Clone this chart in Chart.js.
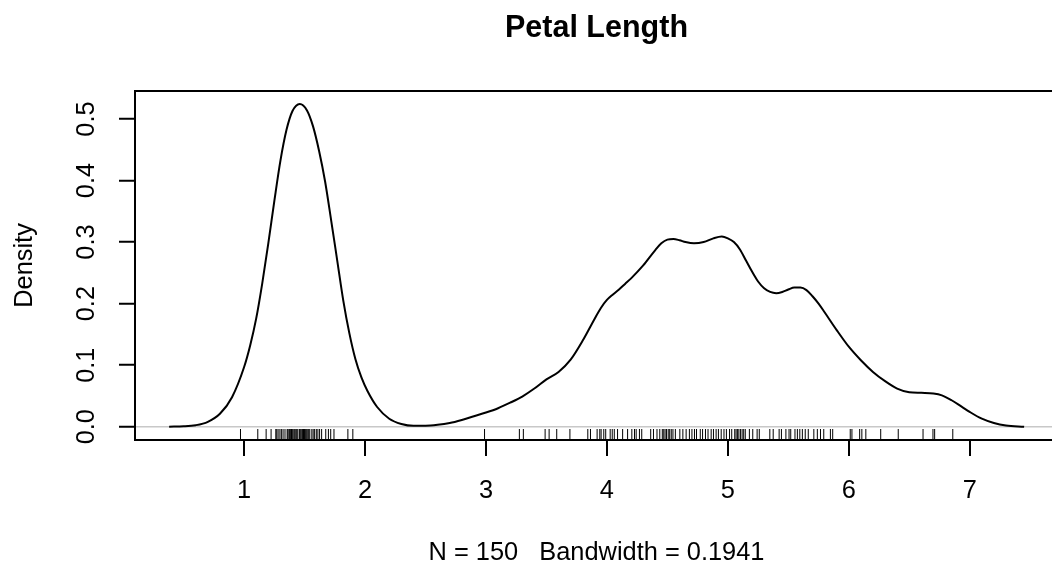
<!DOCTYPE html>
<html>
<head>
<meta charset="utf-8">
<script src="https://cdn.jsdelivr.net/npm/chart.js@4"></script>
<style>
  html, body { margin: 0; padding: 0; background: #fff; overflow: hidden; }
  canvas { display: block; }
</style>
</head>
<body>
<canvas id="myChart" width="1070" height="565"></canvas>
<script>
// density curve (x = petal length, y = density)
const densityX = [
  0.38, 0.5, 0.6, 0.7, 0.8, 0.9, 1.0, 1.05, 1.1, 1.15, 1.2, 1.25, 1.3, 1.35, 1.4, 1.46,
  1.52, 1.57, 1.62, 1.67, 1.72, 1.77, 1.82, 1.87, 1.92, 1.97, 2.02, 2.1, 2.2, 2.3, 2.4, 2.5,
  2.6, 2.7, 2.8, 2.9, 3.0, 3.1, 3.2, 3.3, 3.4, 3.5, 3.6, 3.7, 3.8, 3.9, 3.95, 4.0, 4.05,
  4.1, 4.15, 4.2, 4.3, 4.4, 4.45, 4.5, 4.55, 4.6, 4.65, 4.72, 4.8, 4.88, 4.95, 5.0, 5.05,
  5.1, 5.15, 5.2, 5.25, 5.3, 5.35, 5.4, 5.45, 5.5, 5.55, 5.6, 5.65, 5.7, 5.75, 5.8, 5.9,
  6.0, 6.1, 6.2, 6.3, 6.4, 6.5, 6.6, 6.7, 6.77, 6.85, 6.93, 7.0, 7.1, 7.2, 7.3, 7.45
];
const densityY = [
  0.0, 0.0006, 0.0025, 0.008, 0.021, 0.048, 0.097, 0.132, 0.176, 0.233, 0.298, 0.367, 0.432, 0.482, 0.513, 0.5245,
  0.514, 0.488, 0.448, 0.398, 0.335, 0.270, 0.205, 0.152, 0.110, 0.080, 0.058, 0.032, 0.013, 0.0045, 0.0015, 0.0015,
  0.003, 0.006, 0.011, 0.017, 0.023, 0.030, 0.039, 0.049, 0.062, 0.077, 0.089, 0.109, 0.140, 0.176, 0.193, 0.206, 0.215,
  0.223, 0.232, 0.241, 0.262, 0.287, 0.298, 0.304, 0.305, 0.303, 0.300, 0.298, 0.300, 0.306, 0.309, 0.306, 0.300,
  0.288, 0.270, 0.252, 0.236, 0.225, 0.219, 0.217, 0.219, 0.223, 0.226, 0.226, 0.222, 0.212, 0.200, 0.186, 0.157,
  0.130, 0.108, 0.089, 0.074, 0.062, 0.056, 0.055, 0.054, 0.051, 0.043, 0.033, 0.024, 0.013, 0.006, 0.002, 0.0
];

const rugValues = [
  0.970, 1.113, 1.182, 1.223,
  1.262, 1.270, 1.281, 1.296, 1.308, 1.322, 1.338,
  1.356, 1.362, 1.371, 1.377, 1.385, 1.392, 1.398, 1.405, 1.414, 1.421, 1.429, 1.436, 1.444,
  1.457, 1.463, 1.470, 1.478, 1.484, 1.491, 1.499, 1.506, 1.513, 1.520, 1.528, 1.535, 1.543,
  1.560, 1.571, 1.583, 1.597, 1.610, 1.624, 1.641,
  1.675, 1.697, 1.716, 1.743, 1.858, 1.899,
  2.988, 3.276, 3.309, 3.489, 3.522, 3.585, 3.694, 3.842,
  3.864, 3.919, 3.941, 3.952, 3.974, 3.990, 4.027, 4.044,
  4.061, 4.088, 4.130, 4.171, 4.206, 4.228, 4.242, 4.269, 4.288,
  4.362, 4.385, 4.414, 4.437,
  4.458, 4.470, 4.481, 4.493, 4.507, 4.519, 4.532, 4.546,
  4.566, 4.603, 4.628, 4.655, 4.682, 4.703, 4.724, 4.741,
  4.772, 4.791, 4.815, 4.836, 4.862, 4.881, 4.903, 4.922, 4.945,
  4.968, 4.988, 5.014, 5.032,
  5.057, 5.068, 5.079, 5.091, 5.104, 5.118, 5.131, 5.144,
  5.178, 5.206, 5.242, 5.260, 5.347, 5.375, 5.424, 5.443, 5.480,
  5.506, 5.520, 5.555, 5.575, 5.595, 5.616, 5.640, 5.665, 5.711,
  5.740, 5.766, 5.793, 5.848, 5.867, 6.012, 6.026, 6.090, 6.108, 6.141,
  6.264, 6.409, 6.614, 6.696, 6.710, 6.860
];

const xTicks = [1, 2, 3, 4, 5, 6, 7];
const yTicks = [0, 0.1, 0.2, 0.3, 0.4, 0.5];

const xMin = 0.0977, xMax = 7.73;
const yMin = -0.0216, yMax = 0.5455;

const titleText = "Petal Length";
const subText = "N = 150   Bandwidth = 0.1941";
const yLabel = "Density";

Chart.defaults.font.family = "'Liberation Sans', Arial, sans-serif";
Chart.defaults.color = "#000";

// frame round the plot region, like R's box()
const boxPlugin = {
  id: "box",
  afterDraw(chart) {
    const { ctx, chartArea: a } = chart;
    ctx.save();
    ctx.strokeStyle = "#000";
    ctx.lineWidth = 2;
    ctx.strokeRect(a.left, a.top, a.right - a.left, a.bottom - a.top);
    ctx.restore();
  },
};

const cfg = {
  type: "line",
  data: {
    datasets: [
      {
        label: "density",
        xAxisID: "x",
        yAxisID: "y",
        data: densityX.map((x, i) => ({ x: x, y: densityY[i] })),
        borderColor: "#000",
        borderWidth: 2,
        pointRadius: 0,
        cubicInterpolationMode: "monotone",
        fill: false,
      },
      {
        type: "scatter",
        label: "rug",
        xAxisID: "x",
        yAxisID: "y",
        data: rugValues.map((x) => ({ x: x, y: yMin })),
        pointStyle: "line",
        rotation: 90,
        radius: 11,
        borderWidth: 1,
        borderColor: "#000",
        clip: 0,
      },
    ],
  },
  plugins: [boxPlugin],
  options: {
    responsive: false,
    animation: false,
    events: [],
    layout: { padding: { top: 0, right: 6, left: 0, bottom: 0 } },
    plugins: {
      legend: { display: false },
      tooltip: { enabled: false },
      title: { display: false },
    },
    scales: {
      x: {
        type: "linear",
        position: "bottom",
        min: xMin,
        max: xMax,
        afterFit: (s) => { s.height = 125; },
        afterBuildTicks: (s) => { s.ticks = xTicks.map((v) => ({ value: v })); },
        ticks: {
          autoSkip: false,
          maxRotation: 0,
          padding: 20,
          font: { size: 25.4 },
          callback: (v) => String(v),
        },
        grid: { drawOnChartArea: false, color: "#000", lineWidth: 2, tickLength: 16 },
        border: { display: true, color: "#000", width: 2 },
        title: {
          display: true,
          text: subText,
          font: { size: 25.4, lineHeight: 1.2 },
          padding: { top: 0, bottom: -3 },
        },
      },
      y: {
        type: "linear",
        min: yMin,
        max: yMax,
        afterFit: (s) => { s.width = 135; },
        afterBuildTicks: (s) => { s.ticks = yTicks.map((v) => ({ value: v })); },
        ticks: {
          autoSkip: false,
          minRotation: 90,
          maxRotation: 90,
          crossAlign: "center",
          padding: 14.4,
          font: { size: 25.4 },
          callback: (v) => v.toFixed(1),
        },
        grid: {
          drawOnChartArea: true,
          color: (c) => (c.tick && c.tick.value === 0 ? "#c8c8c8" : "rgba(0,0,0,0)"),
          lineWidth: 1.5,
          tickColor: "#000",
          tickWidth: 2,
          tickLength: 16,
        },
        border: { display: true, color: "#000", width: 2 },
        title: {
          display: true,
          text: yLabel,
          font: { size: 25.4, lineHeight: 1.2 },
          padding: { top: 10, bottom: 0 },
        },
      },
      // empty top axis, only used to hold the main title centred over the plot
      top: {
        type: "linear",
        axis: "x",
        position: "top",
        afterFit: (s) => { s.height = 91; },
        ticks: { display: false },
        grid: { display: false },
        border: { display: false },
        title: {
          display: true,
          text: titleText,
          font: { size: 30.5, weight: "bold", lineHeight: 1.2 },
          padding: { top: 10, bottom: 0 },
        },
      },
    },
  },
};

const ctx = document.getElementById("myChart");
new Chart(ctx, cfg);
</script>
</body>
</html>
